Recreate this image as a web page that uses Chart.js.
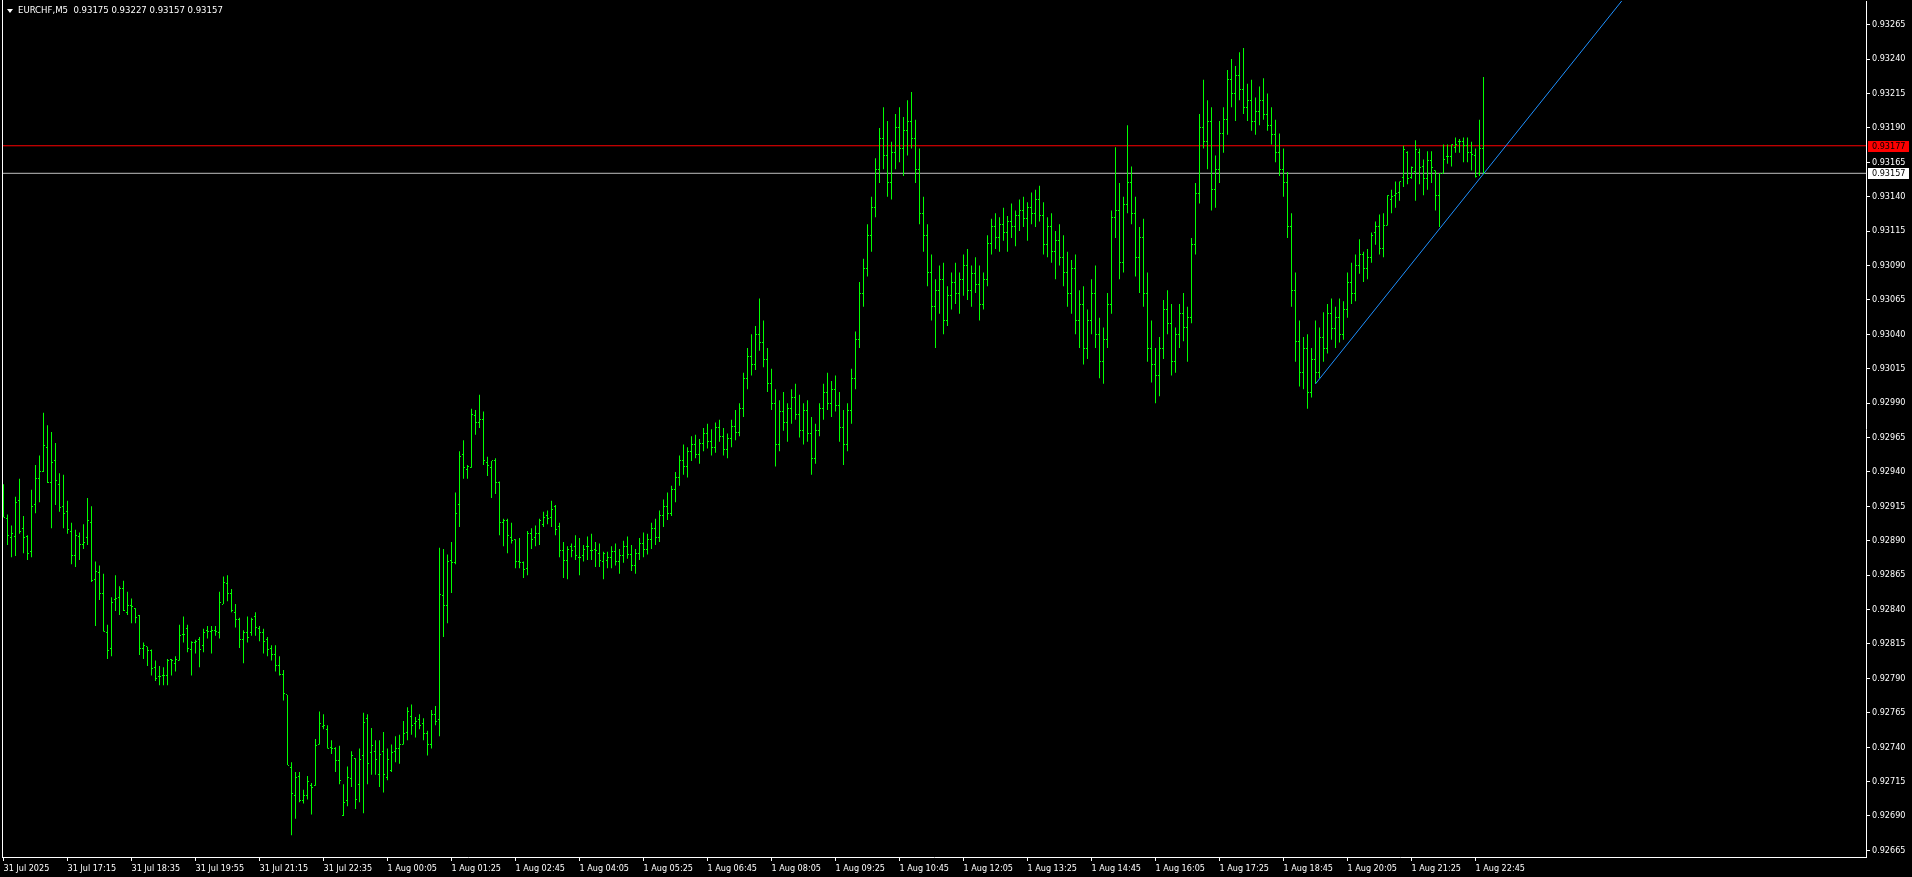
<!DOCTYPE html>
<html>
<head>
<meta charset="utf-8">
<title>EURCHF,M5</title>
<script src="https://cdn.jsdelivr.net/npm/chart.js@4.4.1/dist/chart.umd.min.js"></script>
<style>
    html, body { margin: 0; padding: 0; background: #000; overflow: hidden; }
    #wrap { position: relative; width: 1912px; height: 877px; }
    #chart { display: block; }
    #title {
        position: absolute; left: 18px; top: 4px;
        color: #fff; white-space: pre;
        font: 9.5px 'DejaVu Sans Condensed', 'DejaVu Sans', sans-serif;
    }
    #arrow {
        position: absolute; left: 7px; top: 9px; width: 0; height: 0;
        border-left: 3px solid transparent; border-right: 3px solid transparent;
        border-top: 4px solid #fff;
    }
</style>
</head>
<body>
<div id="wrap">
    <canvas id="chart" width="1912" height="877"></canvas>
    <div id="arrow"></div>
    <div id="title">EURCHF,M5  0.93175 0.93227 0.93157 0.93157</div>
</div>
<script>
// prices in points (1 point = 0.00001), one value per M5 bar, oldest first
const openPts = [
    92920, 92906, 92892, 92893, 92919, 92899, 92893, 92882, 92916, 92935,
    92940, 92958, 92932, 92948, 92931, 92915, 92911, 92897, 92879, 92893,
    92887, 92892, 92903, 92862, 92867, 92852, 92823, 92812, 92847, 92849,
    92855, 92838, 92843, 92841, 92836, 92812, 92813, 92810, 92798, 92791,
    92792, 92792, 92804, 92801, 92803, 92822, 92826, 92811, 92816, 92818,
    92814, 92825, 92824, 92825, 92823, 92844, 92859, 92852, 92838, 92833,
    92818, 92823, 92823, 92835, 92826, 92823, 92818, 92812, 92807, 92799,
    92793, 92778, 92725, 92705, 92719, 92701, 92705, 92712, 92712, 92742,
    92755, 92753, 92740, 92739, 92730, 92690, 92701, 92717, 92732, 92713,
    92734, 92761, 92736, 92737, 92720, 92737, 92718, 92723, 92737, 92739,
    92742, 92751, 92762, 92757, 92760, 92757, 92750, 92742, 92764, 92760,
    92850, 92843, 92876, 92874, 92916, 92953, 92942, 92943, 92981, 92976,
    92978, 92947, 92943, 92948, 92932, 92903, 92905, 92892, 92891, 92875,
    92874, 92870, 92895, 92892, 92895, 92902, 92908, 92907, 92915, 92900,
    92883, 92876, 92886, 92886, 92878, 92879, 92886, 92883, 92884, 92881,
    92875, 92876, 92878, 92882, 92875, 92879, 92886, 92880, 92872, 92881,
    92888, 92884, 92891, 92899, 92892, 92908, 92915, 92910, 92927, 92936,
    92948, 92944, 92955, 92960, 92953, 92961, 92968, 92962, 92958, 92972,
    92966, 92956, 92964, 92973, 92969, 92986, 93008, 93024, 93018, 93040,
    93034, 93022, 93004, 92990, 92960, 92984, 92976, 92986, 92994, 92982,
    92970, 92985, 92968, 92950, 92970, 92986, 92998, 92990, 93000, 92988,
    92972, 92960, 92985, 93008, 93036, 93070, 93088, 93112, 93132, 93160,
    93182, 93170, 93150, 93172, 93190, 93175, 93188, 93195, 93182, 93160,
    93128, 93112, 93085, 93060, 93072, 93080, 93050, 93068, 93078, 93070,
    93080, 93090, 93072, 93084, 93076, 93062, 93080, 93106, 93118, 93110,
    93120, 93114, 93122, 93118, 93126, 93130, 93124, 93132, 93128, 93138,
    93126, 93105, 93118, 93100, 93108, 93096, 93085, 93070, 93088, 93050,
    93062, 93030, 93050, 93070, 93040, 93020, 93036, 93062, 93125, 93130,
    93092, 93134, 93150, 93128, 93096, 93110, 93070, 93030, 93018, 93010,
    93030, 93058, 93048, 93020, 93040, 93055, 93045, 93052, 93105, 93142,
    93190, 93180, 93195, 93145, 93160, 93186, 93196, 93225, 93215, 93228,
    93218, 93205, 93210, 93195, 93202, 93210, 93200, 93192, 93185, 93172,
    93160, 93150, 93118, 93072, 93035, 93012, 93030, 92998, 93022, 93012,
    93038, 93030, 93055, 93044, 93052, 93040, 93058, 93078, 93070, 93090,
    93098, 93088, 93096, 93114, 93118, 93102, 93119, 93138, 93141, 93143,
    93154, 93172, 93154, 93158, 93172, 93162, 93153, 93166, 93159, 93141,
    93157, 93169, 93169, 93176, 93180, 93180, 93177, 93172, 93170, 93157,
    93175
];
const highPts = [
    92931, 92909, 92901, 92922, 92935, 92908, 92894, 92927, 92945, 92952,
    92983, 92974, 92969, 92961, 92939, 92938, 92919, 92903, 92898, 92896,
    92902, 92921, 92915, 92875, 92872, 92866, 92829, 92849, 92865, 92857,
    92861, 92853, 92848, 92841, 92836, 92816, 92813, 92811, 92803, 92799,
    92798, 92804, 92804, 92806, 92829, 92835, 92829, 92817, 92818, 92820,
    92826, 92828, 92828, 92828, 92853, 92864, 92865, 92855, 92844, 92834,
    92825, 92835, 92834, 92838, 92828, 92826, 92820, 92814, 92814, 92806,
    92796, 92778, 92729, 92722, 92722, 92709, 92719, 92714, 92746, 92766,
    92764, 92756, 92745, 92740, 92741, 92713, 92726, 92737, 92732, 92739,
    92765, 92764, 92754, 92745, 92745, 92751, 92739, 92742, 92748, 92749,
    92759, 92769, 92771, 92762, 92764, 92761, 92752, 92767, 92770, 92885,
    92884, 92880, 92889, 92925, 92955, 92963, 92945, 92986, 92985, 92996,
    92984, 92951, 92948, 92950, 92933, 92906, 92906, 92903, 92891, 92892,
    92875, 92897, 92899, 92901, 92906, 92911, 92912, 92919, 92916, 92903,
    92889, 92886, 92888, 92894, 92892, 92887, 92893, 92895, 92889, 92888,
    92882, 92882, 92886, 92888, 92884, 92890, 92893, 92887, 92884, 92892,
    92896, 92895, 92903, 92906, 92912, 92920, 92925, 92930, 92940, 92952,
    92960, 92958, 92966, 92967, 92964, 92972, 92975, 92971, 92976, 92978,
    92972, 92968, 92978, 92985, 92990, 93012, 93030, 93040, 93046, 93066,
    93050, 93030, 93015, 93000, 92992, 92998, 92990, 93000, 93004, 92996,
    92990, 92992, 92980, 92975, 92990, 93004, 93012, 93006, 93010, 92998,
    92985, 92990, 93015, 93042, 93078, 93095, 93120, 93140, 93168, 93190,
    93205, 93195, 93180, 93200, 93205, 93198, 93210, 93216, 93196, 93175,
    93140, 93120, 93098, 93080, 93090, 93092, 93075, 93085, 93092, 93085,
    93098, 93102, 93090, 93096, 93090, 93085, 93112, 93124, 93128, 93125,
    93132, 93126, 93135, 93130, 93138, 93140, 93136, 93143, 93145, 93148,
    93136, 93125, 93128, 93115, 93120, 93112, 93100, 93094, 93098, 93072,
    93075, 93058, 93080, 93090, 93052, 93045, 93070, 93130, 93176, 93150,
    93140, 93192, 93162, 93140, 93118, 93124, 93085, 93050, 93030, 93038,
    93065, 93072, 93062, 93045, 93062, 93070, 93060, 93110, 93150, 93200,
    93225, 93210, 93205, 93170, 93195, 93205, 93232, 93240, 93235, 93245,
    93248, 93222, 93225, 93212, 93220, 93226, 93215, 93205, 93196, 93186,
    93175, 93158, 93128, 93085, 93050, 93038, 93040, 93030, 93050, 93045,
    93056, 93062, 93066, 93060, 93066, 93064, 93085, 93092, 93098, 93109,
    93100, 93102, 93114, 93122, 93127, 93128, 93141, 93145, 93151, 93151,
    93177, 93173, 93162, 93181, 93175, 93167, 93173, 93173, 93159, 93157,
    93178, 93178, 93178, 93183, 93182, 93183, 93183, 93180, 93175, 93196,
    93227
];
const lowPts = [
    92907, 92887, 92878, 92879, 92895, 92881, 92876, 92878, 92910, 92918,
    92940, 92932, 92899, 92916, 92911, 92899, 92895, 92873, 92871, 92876,
    92884, 92887, 92860, 92828, 92847, 92824, 92804, 92806, 92839, 92836,
    92839, 92836, 92830, 92830, 92807, 92804, 92799, 92792, 92788, 92785,
    92785, 92785, 92792, 92795, 92803, 92816, 92809, 92792, 92808, 92798,
    92809, 92819, 92808, 92821, 92819, 92844, 92846, 92838, 92827, 92812,
    92801, 92816, 92821, 92821, 92817, 92808, 92806, 92803, 92795, 92792,
    92774, 92727, 92676, 92688, 92700, 92699, 92702, 92691, 92712, 92742,
    92753, 92739, 92735, 92722, 92713, 92690, 92697, 92711, 92695, 92700,
    92692, 92713, 92720, 92720, 92711, 92707, 92716, 92722, 92729, 92728,
    92742, 92745, 92749, 92747, 92753, 92745, 92734, 92739, 92756, 92748,
    92820, 92830, 92852, 92873, 92900, 92935, 92935, 92943, 92967, 92972,
    92945, 92937, 92921, 92924, 92894, 92886, 92881, 92888, 92870, 92870,
    92863, 92865, 92884, 92886, 92887, 92900, 92902, 92900, 92894, 92878,
    92863, 92862, 92878, 92876, 92865, 92875, 92876, 92876, 92871, 92871,
    92862, 92870, 92870, 92872, 92866, 92874, 92877, 92868, 92866, 92876,
    92878, 92880, 92884, 92887, 92889, 92900, 92905, 92908, 92918, 92930,
    92938, 92936, 92948, 92950, 92946, 92955, 92957, 92952, 92954, 92962,
    92952, 92950, 92958, 92963, 92966, 92980, 93000, 93010, 93014, 93028,
    93016, 92998, 92985, 92944, 92955, 92970, 92962, 92975, 92978, 92965,
    92960, 92962, 92938, 92946, 92966, 92978, 92985, 92980, 92984, 92962,
    92945, 92955, 92975, 93000, 93030, 93060, 93082, 93100, 93125, 93150,
    93160, 93140, 93138, 93160, 93165, 93155, 93170, 93175, 93150, 93120,
    93100, 93075, 93050, 93030, 93055, 93040, 93046, 93058, 93062, 93055,
    93068, 93065, 93060, 93070, 93050, 93058, 93075, 93098, 93102, 93100,
    93108, 93100, 93110, 93104, 93115, 93118, 93108, 93120, 93118, 93122,
    93098, 93096, 93092, 93080, 93090, 93075, 93060, 93055, 93040, 93030,
    93018, 93022, 93040, 93030, 93008, 93004, 93030, 93055, 93110, 93080,
    93085, 93128, 93120, 93082, 93070, 93060, 93020, 93005, 92990, 92995,
    93022, 93040, 93010, 93012, 93030, 93035, 93020, 93048, 93098, 93135,
    93175, 93160, 93130, 93132, 93150, 93172, 93185, 93205, 93195, 93210,
    93200, 93195, 93188, 93185, 93192, 93196, 93188, 93178, 93165, 93155,
    93140, 93110, 93060, 93020, 93002, 93000, 92986, 92994, 93004, 93008,
    93020, 93026, 93036, 93030, 93034, 93036, 93052, 93062, 93064, 93084,
    93078, 93080, 93092, 93105, 93098, 93096, 93119, 93128, 93132, 93137,
    93147, 93149, 93153, 93137, 93149, 93141, 93145, 93150, 93130, 93118,
    93157, 93164, 93162, 93172, 93172, 93165, 93165, 93159, 93154, 93155,
    93157
];
const closePts = [
    92907, 92894, 92895, 92918, 92897, 92892, 92881, 92915, 92935, 92940,
    92959, 92932, 92947, 92934, 92914, 92910, 92898, 92879, 92894, 92887,
    92889, 92905, 92861, 92868, 92852, 92824, 92810, 92845, 92848, 92855,
    92839, 92843, 92842, 92834, 92812, 92814, 92810, 92797, 92790, 92791,
    92792, 92803, 92803, 92804, 92821, 92822, 92812, 92816, 92817, 92811,
    92823, 92824, 92825, 92824, 92845, 92860, 92852, 92839, 92833, 92818,
    92823, 92820, 92833, 92827, 92823, 92817, 92811, 92807, 92799, 92793,
    92779, 92727, 92706, 92718, 92701, 92705, 92715, 92711, 92741, 92757,
    92756, 92739, 92739, 92730, 92716, 92700, 92718, 92734, 92702, 92731,
    92758, 92728, 92741, 92731, 92735, 92720, 92731, 92736, 92739, 92742,
    92750, 92766, 92756, 92759, 92756, 92750, 92742, 92764, 92759, 92851,
    92843, 92875, 92874, 92910, 92951, 92943, 92944, 92982, 92976, 92978,
    92948, 92945, 92948, 92932, 92903, 92905, 92894, 92890, 92875, 92874,
    92869, 92895, 92891, 92895, 92905, 92907, 92906, 92913, 92898, 92883,
    92876, 92884, 92883, 92879, 92878, 92884, 92886, 92883, 92883, 92876,
    92881, 92878, 92882, 92875, 92879, 92886, 92880, 92872, 92881, 92888,
    92884, 92891, 92899, 92892, 92908, 92915, 92910, 92927, 92936, 92948,
    92944, 92955, 92960, 92953, 92961, 92968, 92962, 92958, 92972, 92966,
    92956, 92964, 92973, 92969, 92986, 93008, 93024, 93018, 93040, 93034,
    93022, 93004, 92990, 92960, 92984, 92976, 92986, 92994, 92982, 92970,
    92985, 92968, 92950, 92970, 92986, 92998, 92990, 93000, 92988, 92972,
    92960, 92985, 93008, 93036, 93070, 93088, 93112, 93132, 93160, 93182,
    93170, 93150, 93172, 93190, 93175, 93188, 93195, 93182, 93160, 93128,
    93112, 93085, 93060, 93072, 93080, 93050, 93068, 93078, 93070, 93080,
    93090, 93072, 93084, 93076, 93062, 93080, 93106, 93118, 93110, 93120,
    93114, 93122, 93118, 93126, 93130, 93124, 93132, 93128, 93138, 93126,
    93105, 93118, 93100, 93108, 93096, 93085, 93070, 93088, 93050, 93062,
    93030, 93050, 93070, 93040, 93020, 93036, 93062, 93125, 93130, 93092,
    93134, 93150, 93128, 93096, 93110, 93070, 93030, 93018, 93010, 93030,
    93058, 93048, 93020, 93040, 93055, 93045, 93052, 93105, 93142, 93190,
    93180, 93195, 93145, 93160, 93186, 93196, 93225, 93215, 93228, 93218,
    93205, 93210, 93195, 93202, 93210, 93200, 93192, 93185, 93172, 93160,
    93150, 93118, 93072, 93035, 93012, 93030, 92998, 93022, 93012, 93038,
    93030, 93055, 93044, 93052, 93040, 93058, 93078, 93070, 93090, 93098,
    93088, 93096, 93112, 93118, 93102, 93119, 93141, 93140, 93142, 93151,
    93174, 93153, 93161, 93174, 93161, 93153, 93166, 93161, 93141, 93157,
    93167, 93169, 93178, 93178, 93180, 93177, 93172, 93171, 93155, 93175,
    93157
];

// time axis: a label every 16 bars
const timeTickBars = [0, 16, 32, 48, 64, 80, 96, 112, 128, 144, 160, 176,
    192, 208, 224, 240, 256, 272, 288, 304, 320, 336, 352, 368];
const timeLabels = ['31 Jul 2025', '31 Jul 17:15', '31 Jul 18:35', '31 Jul 19:55',
    '31 Jul 21:15', '31 Jul 22:35', '1 Aug 00:05', '1 Aug 01:25', '1 Aug 02:45',
    '1 Aug 04:05', '1 Aug 05:25', '1 Aug 06:45', '1 Aug 08:05', '1 Aug 09:25',
    '1 Aug 10:45', '1 Aug 12:05', '1 Aug 13:25', '1 Aug 14:45', '1 Aug 16:05',
    '1 Aug 17:25', '1 Aug 18:45', '1 Aug 20:05', '1 Aug 21:25', '1 Aug 22:45'];

// price axis labels
const priceTicks = [0.92665, 0.92690, 0.92715, 0.92740, 0.92765, 0.92790, 0.92815,
    0.92840, 0.92865, 0.92890, 0.92915, 0.92940, 0.92965, 0.92990, 0.93015,
    0.93040, 0.93065, 0.93090, 0.93115, 0.93140, 0.93165, 0.93190, 0.93215,
    0.93240, 0.93265];

// ask / bid lines and the trend line (bar index, price)
const askPrice = 0.93177;
const bidPrice = 0.93157;
const trendBars = [328, 410];
const trendPrices = [0.93004, 0.93302];

const X_MIN = -0.375;
const X_MAX = 465.625;
const Y_MIN = 0.926602;
const Y_MAX = 0.932822;

const barColor = '#00ff00';
const axisFont = { family: "'DejaVu Sans Condensed', 'DejaVu Sans', sans-serif", size: 9 };

const rangeData = highPts.map((h, i) => ({ x: i, y: [lowPts[i] / 1e5, h / 1e5] }));

// open tick to the left, close tick to the right of every bar
const ohlcTicks = {
    id: 'ohlcTicks',
    afterDatasetsDraw(chart) {
        const { ctx, scales: { x, y } } = chart;
        ctx.save();
        ctx.fillStyle = barColor;
        for (let i = 0; i < openPts.length; i++) {
            const px = Math.floor(x.getPixelForValue(i));
            ctx.fillRect(px - 1, Math.floor(y.getPixelForValue(openPts[i] / 1e5)), 1, 1);
            ctx.fillRect(px + 1, Math.floor(y.getPixelForValue(closePts[i] / 1e5)), 1, 1);
        }
        ctx.restore();
    }
};

// left frame line and the price boxes on the axis
const frameAndBoxes = {
    id: 'frameAndBoxes',
    afterDraw(chart) {
        const { ctx, chartArea, scales: { y } } = chart;
        ctx.save();
        ctx.fillStyle = '#fff';
        ctx.fillRect(chartArea.left, 0, 1, chartArea.bottom);

        const boxes = [
            { price: askPrice, fill: '#ff0000' },
            { price: bidPrice, fill: '#ffffff' }
        ];
        ctx.font = axisFont.size + 'px ' + axisFont.family;
        ctx.textBaseline = 'middle';
        ctx.textAlign = 'left';
        boxes.forEach(function(b) {
            const py = Math.round(y.getPixelForValue(b.price));
            ctx.fillStyle = b.fill;
            ctx.fillRect(chartArea.right + 2, py - 5, 41, 11);
            ctx.fillStyle = '#000';
            ctx.fillText(b.price.toFixed(5), chartArea.right + 6, py + 0.5);
        });
        ctx.restore();
    }
};

const ctx = document.getElementById('chart').getContext('2d');
new Chart(ctx, {
    type: 'bar',
    data: {
        datasets: [
            {
                type: 'line',
                data: [{ x: trendBars[0], y: trendPrices[0] }, { x: trendBars[1], y: trendPrices[1] }],
                borderColor: '#1e90ff',
                borderWidth: 1,
                pointRadius: 0,
                order: 0
            },
            {
                type: 'bar',
                data: rangeData,
                backgroundColor: barColor,
                borderWidth: 0,
                barThickness: 1,
                inflateAmount: 0,
                grouped: false,
                order: 1
            },
            {
                type: 'line',
                data: [{ x: X_MIN, y: askPrice }, { x: X_MAX, y: askPrice }],
                borderColor: '#ff0000',
                borderWidth: 1,
                pointRadius: 0,
                order: 2
            },
            {
                type: 'line',
                data: [{ x: X_MIN, y: bidPrice }, { x: X_MAX, y: bidPrice }],
                borderColor: '#c0c0c0',
                borderWidth: 1,
                pointRadius: 0,
                order: 2
            }
        ]
    },
    options: {
        responsive: false,
        animation: false,
        devicePixelRatio: 1,
        layout: { padding: { left: 2, top: 1, right: 0, bottom: 0 } },
        plugins: {
            legend: { display: false },
            tooltip: { enabled: false },
            title: { display: false }
        },
        scales: {
            x: {
                type: 'linear',
                min: X_MIN,
                max: X_MAX,
                offset: false,
                afterBuildTicks: function(scale) {
                    scale.ticks = timeTickBars.map(v => ({ value: v }));
                },
                afterFit: function(scale) {
                    scale.height = 20;
                    scale.paddingLeft = 0;
                    scale.paddingRight = 0;
                },
                ticks: {
                    color: '#fff',
                    font: axisFont,
                    align: 'start',
                    padding: 2,
                    maxRotation: 0,
                    autoSkip: false,
                    callback: function(v) { return timeLabels[timeTickBars.indexOf(v)]; }
                },
                grid: { drawOnChartArea: false, offset: false, tickLength: 4, color: '#fff' },
                border: { display: true, color: '#fff', width: 1 }
            },
            y: {
                position: 'right',
                min: Y_MIN,
                max: Y_MAX,
                beginAtZero: false,
                afterBuildTicks: function(scale) {
                    scale.ticks = priceTicks.map(v => ({ value: v }));
                },
                afterFit: function(scale) {
                    scale.width = 46;
                    scale.paddingTop = 0;
                    scale.paddingBottom = 0;
                },
                ticks: {
                    color: '#fff',
                    font: axisFont,
                    padding: 2,
                    autoSkip: false,
                    callback: function(v) { return v.toFixed(5); }
                },
                grid: { drawOnChartArea: false, tickLength: 4, color: '#fff' },
                border: { display: true, color: '#fff', width: 1 }
            }
        }
    },
    plugins: [ohlcTicks, frameAndBoxes]
});
</script>
</body>
</html>
